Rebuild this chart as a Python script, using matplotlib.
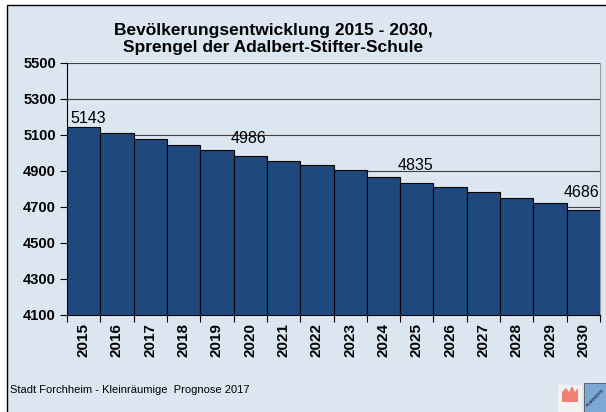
import numpy as np
import matplotlib.pyplot as plt
from matplotlib.patches import Rectangle, Polygon

plt.rcParams['font.family'] = ['Liberation Sans', 'DejaVu Sans']

# Daten
years = ['2015', '2016', '2017', '2018', '2019', '2020', '2021', '2022',
         '2023', '2024', '2025', '2026', '2027', '2028', '2029', '2030']
population = [5143, 5109, 5076, 5046, 5015, 4986, 4957, 4932,
              4904, 4869, 4835, 4809, 4781, 4752, 4722, 4686]
labelled_years = ['2015', '2020', '2025', '2030']
y_ticks = [4100, 4300, 4500, 4700, 4900, 5100, 5300, 5500]

title = 'Bevölkerungsentwicklung 2015 - 2030,\nSprengel der Adalbert-Stifter-Schule'
footer = 'Stadt Forchheim - Kleinräumige  Prognose 2017'

bg = '#dce6f1'
bar_color = '#1f497d'

W, H = 606, 412
fig = plt.figure(figsize=(W / 100, H / 100), dpi=100)
fig.patch.set_facecolor('white')

# Rahmen um das Diagramm
frame = Rectangle((7 / W, -0.01), 1.0, 1 - 5 / H + 0.01, transform=fig.transFigure,
                  facecolor=bg, edgecolor='black', linewidth=1.0, zorder=-5)
fig.patches.append(frame)

ax = fig.add_axes([67 / W, 1 - 315 / H, (600 - 67) / W, (315 - 63) / H])
ax.set_zorder(2)
ax.set_facecolor(bg)

x = np.arange(len(years))
ax.bar(x, population, width=1.0, bottom=0, color=bar_color, edgecolor='black',
       linewidth=0.8, zorder=3)

ax.set_xlim(-0.5, len(years) - 0.5)
ax.set_ylim(4100, 5500)
ax.set_yticks(y_ticks)
ax.set_yticklabels([str(t) for t in y_ticks], fontweight='bold', fontsize=10.5)
ax.yaxis.grid(True, color='#404040', linewidth=0.8, zorder=1)
ax.set_axisbelow(True)

# x-Achse: Striche zwischen den Balken, Beschriftung darunter
ax.set_xticks(x)
ax.set_xticklabels(years, rotation=90, fontweight='bold', fontsize=11)
ax.set_xticks(np.arange(-0.5, len(years)), minor=True)
ax.tick_params(axis='x', which='major', length=0, pad=6)
ax.tick_params(axis='x', which='minor', length=5, width=0.8, direction='out')
ax.tick_params(axis='y', length=5, width=0.8, direction='out', pad=3)

ax.spines['top'].set_visible(False)
ax.spines['right'].set_color('#a0a0a0')
ax.spines['left'].set_linewidth(0.8)
ax.spines['bottom'].set_linewidth(0.8)

# Werte ueber ausgewaehlten Balken
for i, (yr, val) in enumerate(zip(years, population)):
    if yr in labelled_years:
        dy = 1 if i == 0 else 7
        dx = 3 if i == 0 else -1
        ax.annotate(str(val), (i, val), xytext=(dx, dy), textcoords='offset points',
                    ha='center', va='bottom', fontsize=11.5, zorder=5)

fig.text(273 / W, 1 - 39 / H, title, ha='center', va='center', fontsize=12.5,
         fontweight='bold', linespacing=1.2)

fig.text(10 / W, 1 - 390 / H, footer, ha='left', va='center', fontsize=8)

# kleine Logos unten rechts
logo1 = Rectangle((558 / W, 1 - 412 / H), 24 / W, 27 / H, transform=fig.transFigure,
                  facecolor='#f2f2f2', edgecolor='none')
fig.patches.append(logo1)
house = Polygon([(562 / W, 1 - 402 / H), (562 / W, 1 - 392 / H), (566 / W, 1 - 388 / H),
                 (569 / W, 1 - 392 / H), (572 / W, 1 - 386 / H), (575 / W, 1 - 392 / H),
                 (578 / W, 1 - 388 / H), (578 / W, 1 - 402 / H)],
                closed=True, transform=fig.transFigure, facecolor='#f08070', edgecolor='none')
fig.patches.append(house)
logo2 = Rectangle((584 / W, 1 - 412 / H), 22 / W, 29 / H, transform=fig.transFigure,
                  facecolor='#7fa7d4', edgecolor='#555555', linewidth=0.6)
fig.patches.append(logo2)
fig.text(595 / W, 1 - 398 / H, 'PLANWERK', rotation=45, ha='center', va='center',
         fontsize=3, fontweight='bold', color='#1f3a5f')

fig.savefig('out.png', dpi=100, facecolor=fig.get_facecolor())
